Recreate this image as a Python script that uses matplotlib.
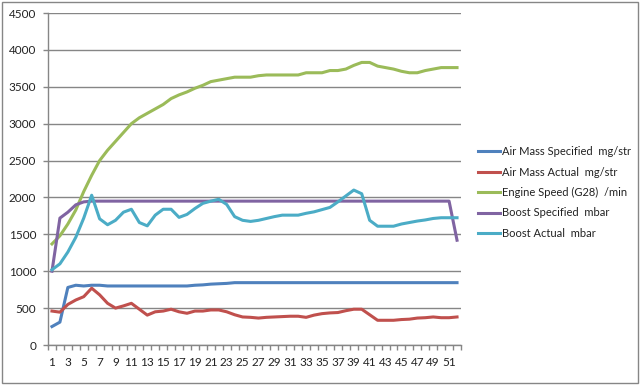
import matplotlib
matplotlib.use("Agg")
import matplotlib.pyplot as plt
import numpy as np
from matplotlib.patches import Rectangle

# sample index 1..52
samples = list(range(1, 53))

air_mass_specified = [250, 310, 780, 810, 800, 810, 810, 800, 800, 800,
                      800, 800, 800, 800, 800, 800, 800, 800, 810, 815,
                      825, 830, 835, 845, 845, 845, 845, 845, 845, 845,
                      845, 845, 845, 845, 845, 845, 845, 845, 845, 845,
                      845, 845, 845, 845, 845, 845, 845, 845, 845, 845,
                      845, 845]
air_mass_actual = [460, 445, 550, 610, 655, 770, 680, 565, 500, 530,
                   565, 485, 405, 450, 460, 485, 450, 430, 460, 460,
                   475, 475, 450, 410, 380, 375, 365, 375, 380, 385,
                   390, 390, 375, 405, 425, 435, 440, 465, 485, 485,
                   410, 335, 335, 335, 345, 350, 365, 370, 380, 370,
                   370, 380]
engine_speed = [1370, 1480, 1640, 1830, 2080, 2300, 2500, 2640, 2760, 2880,
                3000, 3080, 3140, 3200, 3260, 3340, 3390, 3430, 3480, 3520,
                3570, 3590, 3610, 3630, 3630, 3630, 3650, 3660, 3660, 3660,
                3660, 3660, 3690, 3690, 3690, 3720, 3720, 3740, 3790, 3830,
                3830, 3780, 3760, 3740, 3710, 3690, 3690, 3720, 3740, 3760,
                3760, 3760]
boost_specified = [1000, 1720, 1800, 1900, 1940] + [1950] * 46 + [1420]
boost_actual = [1020, 1100, 1260, 1460, 1720, 2030, 1710, 1630, 1690, 1800,
                1840, 1660, 1615, 1760, 1840, 1840, 1730, 1770, 1850, 1920,
                1950, 1975, 1905, 1740, 1690, 1675, 1690, 1715, 1740, 1760,
                1760, 1760, 1785, 1805, 1835, 1865, 1940, 2020, 2100, 2050,
                1690, 1610, 1610, 1610, 1640, 1660, 1680, 1695, 1715, 1725,
                1725, 1725]

labels = ["Air Mass Specified  mg/str", "Air Mass Actual  mg/str",
          "Engine Speed (G28)  /min", "Boost Specified  mbar", "Boost Actual  mbar"]
colors = ["#4F81BD", "#C0504D", "#9BBB59", "#8064A2", "#4BACC6"]
series = [air_mass_specified, air_mass_actual, engine_speed, boost_specified, boost_actual]

plt.rcParams["font.family"] = ["Lato", "DejaVu Sans"]
grey = "#868686"

fig = plt.figure(figsize=(6.4, 3.85), dpi=100)
ax = fig.add_axes([48 / 640, 1 - 345 / 385, (461 - 48) / 640, (345 - 13) / 385])

for vals, lab, col in zip(series, labels, colors):
    ax.plot(samples, vals, color=col, lw=2.2, label=lab, solid_joinstyle="round")

ax.set_xlim(0.5, 52.5)
ax.set_ylim(0, 4500)
ax.set_yticks(np.arange(0, 4501, 500))
ax.set_xticks(samples[::2])
ax.set_xticks(np.arange(0.5, 53, 1), minor=True)
ax.yaxis.grid(True, color=grey, lw=1)
ax.set_axisbelow(True)

for s in ["top", "right"]:
    ax.spines[s].set_visible(False)
for s in ["left", "bottom"]:
    ax.spines[s].set_color(grey)
    ax.spines[s].set_linewidth(1)

ax.tick_params(axis="y", length=3.5, width=1, color=grey, pad=5, labelsize=8.5, labelcolor="#222222")
ax.tick_params(axis="x", which="major", length=0, pad=9, labelsize=8.5, labelcolor="#222222")
ax.tick_params(axis="x", which="minor", length=3.5, width=1, color=grey)

fig.legend(loc="center left", bbox_to_anchor=(478 / 640, 0.5), frameon=False,
           fontsize=8, handlelength=2.0, handletextpad=0.2, labelspacing=0.85,
           borderpad=0, borderaxespad=0, labelcolor="#222222")

fig.patches.append(Rectangle((2 / 640, 2 / 385), 636 / 640, 381 / 385, transform=fig.transFigure,
                             fill=False, edgecolor=grey, lw=1))

fig.savefig("out.png", dpi=100)
